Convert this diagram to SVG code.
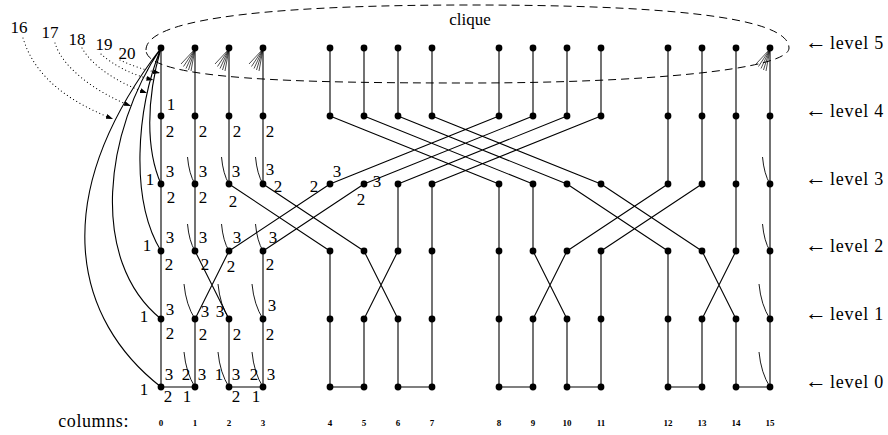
<svg xmlns="http://www.w3.org/2000/svg" width="888" height="435" viewBox="0 0 888 435">
<style>
.e{fill:none;stroke:#000;stroke-width:1.1}
.h{fill:none;stroke:#000;stroke-width:0.9}
.f{fill:none;stroke:#000;stroke-width:0.7}
.d{fill:none;stroke:#000;stroke-width:1.1;stroke-dasharray:0.1 3.6;stroke-linecap:round}
.cl{fill:none;stroke:#000;stroke-width:1;stroke-dasharray:8 5}
.n{fill:#000}
.lb{text-anchor:middle}
</style>
<defs>
<marker id="ah" markerUnits="userSpaceOnUse" markerWidth="8" markerHeight="6" refX="7" refY="2.5" orient="auto"><path d="M0,0 L7,2.5 L0,5 z" fill="#000"/></marker>
<circle id="dot" r="3.4" class="n"/>
</defs>
<rect width="888" height="435" fill="#fff"/>
<g id="clique">
<path class="cl" d="M146,50 C146,15 300,5 470,5 C650,5 789,15 789,48 C789,70 640,83 470,83 C300,83 146,80 146,50 Z"/>
<text x="470" y="25" class="lb" font-family="Liberation Serif" font-size="17">clique</text>
</g>
<g id="connectors">
<path class="e" d="M161,48V387 M195,48V251 M195,319V387 M229,48V184 M229,319V387 M263,48V184 M263,251V387 M330,48V116 M330,251V387 M364,48V116 M364,319V387 M398,48V116 M398,184V251 M398,319V387 M432,48V116 M432,184V387 M499,48V116 M499,184V387 M533,48V116 M533,184V251 M533,319V387 M567,48V116 M567,319V387 M601,48V116 M601,251V387 M668,48V184 M668,251V387 M702,48V184 M702,319V387 M736,48V251 M736,319V387 M770,48V387"/>
<path class="e" d="M161,387H195 M229,387H263 M330,387H364 M398,387H432 M499,387H533 M567,387H601 M668,387H702 M736,387H770"/>
<path class="e" d="M229,184L330,251 M263,184L364,251 M229,251L330,184 M263,251L364,184 M567,184L668,251 M601,184L702,251 M567,251L668,184 M601,251L702,184"/>
<path class="e" d="M330,116L499,184 M364,116L533,184 M398,116L567,184 M432,116L601,184 M330,184L499,116 M364,184L533,116 M398,184L567,116 M432,184L601,116"/>
<path class="e" d="M195,251L229,319 M229,251L195,319 M364,251L398,319 M398,251L364,319 M533,251L567,319 M567,251L533,319 M702,251L736,319 M736,251L702,319"/>
<path class="e" d="M161,48 C146,100 146,150 161,184 M161,48 C136,110 130,200 161,251 M161,48 C105,130 88,260 161,319 M161,48 C45,200 75,320 161,387"/>
<path class="h" d="M187.5,157 Q189,174 195,184 M221.5,157 Q223,174 229,184 M255.5,157 Q257,174 263,184 M762.5,157 Q764,174 770,184 M187.5,224 Q189,241 195,251 M221.5,224 Q223,241 229,251 M255.5,224 Q257,241 263,251 M762.5,224 Q764,241 770,251 M184,284 Q186,305 195,319 M218,284 Q220,305 229,319 M252,284 Q254,305 263,319 M759,284 Q761,305 770,319 M184,352 Q186,373 195,387 M218,352 Q220,373 229,387 M252,352 Q254,373 263,387 M759,352 Q761,373 770,387"/>
<path class="f" d="M195,49L181,64 M195,49L183.5,66.5 M195,49L186,68.5 M195,49L188.5,70 M195,49L191,71 M229,49L215,64 M229,49L217.5,66.5 M229,49L220,68.5 M229,49L222.5,70 M229,49L225,71 M263,49L249,64 M263,49L251.5,66.5 M263,49L254,68.5 M263,49L256.5,70 M263,49L259,71 M770,49L756,64 M770,49L758.5,66.5 M770,49L761,68.5 M770,49L763.5,70 M770,49L766,71"/>
<path class="d" marker-end="url(#ah)" d="M23,38 C35,78 70,102 113,119"/>
<path class="d" marker-end="url(#ah)" d="M55,43 C62,67 95,92 131,106"/>
<path class="d" marker-end="url(#ah)" d="M82,48 C92,66 118,83 147,93"/>
<path class="d" marker-end="url(#ah)" d="M101,54 C113,65 132,75 153.5,80"/>
<path class="d" marker-end="url(#ah)" d="M120,60 C132,66 145,70 160,73"/>
</g>
<g id="edge-labels" font-family="Liberation Serif" font-size="17" text-anchor="middle">
<text x="19" y="33">16</text>
<text x="50" y="38">17</text>
<text x="77" y="45">18</text>
<text x="104" y="50">19</text>
<text x="127" y="59">20</text>
</g>
<g id="nodes">
<g id="c0"><use href="#dot" x="161" y="48"/><use href="#dot" x="161" y="116"/><use href="#dot" x="161" y="184"/><use href="#dot" x="161" y="251"/><use href="#dot" x="161" y="319"/><use href="#dot" x="161" y="387"/></g>
<g id="c1"><use href="#dot" x="195" y="48"/><use href="#dot" x="195" y="116"/><use href="#dot" x="195" y="184"/><use href="#dot" x="195" y="251"/><use href="#dot" x="195" y="319"/><use href="#dot" x="195" y="387"/></g>
<g id="c2"><use href="#dot" x="229" y="48"/><use href="#dot" x="229" y="116"/><use href="#dot" x="229" y="184"/><use href="#dot" x="229" y="251"/><use href="#dot" x="229" y="319"/><use href="#dot" x="229" y="387"/></g>
<g id="c3"><use href="#dot" x="263" y="48"/><use href="#dot" x="263" y="116"/><use href="#dot" x="263" y="184"/><use href="#dot" x="263" y="251"/><use href="#dot" x="263" y="319"/><use href="#dot" x="263" y="387"/></g>
<g id="c4"><use href="#dot" x="330" y="48"/><use href="#dot" x="330" y="116"/><use href="#dot" x="330" y="184"/><use href="#dot" x="330" y="251"/><use href="#dot" x="330" y="319"/><use href="#dot" x="330" y="387"/></g>
<g id="c5"><use href="#dot" x="364" y="48"/><use href="#dot" x="364" y="116"/><use href="#dot" x="364" y="184"/><use href="#dot" x="364" y="251"/><use href="#dot" x="364" y="319"/><use href="#dot" x="364" y="387"/></g>
<g id="c6"><use href="#dot" x="398" y="48"/><use href="#dot" x="398" y="116"/><use href="#dot" x="398" y="184"/><use href="#dot" x="398" y="251"/><use href="#dot" x="398" y="319"/><use href="#dot" x="398" y="387"/></g>
<g id="c7"><use href="#dot" x="432" y="48"/><use href="#dot" x="432" y="116"/><use href="#dot" x="432" y="184"/><use href="#dot" x="432" y="251"/><use href="#dot" x="432" y="319"/><use href="#dot" x="432" y="387"/></g>
<g id="c8"><use href="#dot" x="499" y="48"/><use href="#dot" x="499" y="116"/><use href="#dot" x="499" y="184"/><use href="#dot" x="499" y="251"/><use href="#dot" x="499" y="319"/><use href="#dot" x="499" y="387"/></g>
<g id="c9"><use href="#dot" x="533" y="48"/><use href="#dot" x="533" y="116"/><use href="#dot" x="533" y="184"/><use href="#dot" x="533" y="251"/><use href="#dot" x="533" y="319"/><use href="#dot" x="533" y="387"/></g>
<g id="c10"><use href="#dot" x="567" y="48"/><use href="#dot" x="567" y="116"/><use href="#dot" x="567" y="184"/><use href="#dot" x="567" y="251"/><use href="#dot" x="567" y="319"/><use href="#dot" x="567" y="387"/></g>
<g id="c11"><use href="#dot" x="601" y="48"/><use href="#dot" x="601" y="116"/><use href="#dot" x="601" y="184"/><use href="#dot" x="601" y="251"/><use href="#dot" x="601" y="319"/><use href="#dot" x="601" y="387"/></g>
<g id="c12"><use href="#dot" x="668" y="48"/><use href="#dot" x="668" y="116"/><use href="#dot" x="668" y="184"/><use href="#dot" x="668" y="251"/><use href="#dot" x="668" y="319"/><use href="#dot" x="668" y="387"/></g>
<g id="c13"><use href="#dot" x="702" y="48"/><use href="#dot" x="702" y="116"/><use href="#dot" x="702" y="184"/><use href="#dot" x="702" y="251"/><use href="#dot" x="702" y="319"/><use href="#dot" x="702" y="387"/></g>
<g id="c14"><use href="#dot" x="736" y="48"/><use href="#dot" x="736" y="116"/><use href="#dot" x="736" y="184"/><use href="#dot" x="736" y="251"/><use href="#dot" x="736" y="319"/><use href="#dot" x="736" y="387"/></g>
<g id="c15"><use href="#dot" x="770" y="48"/><use href="#dot" x="770" y="116"/><use href="#dot" x="770" y="184"/><use href="#dot" x="770" y="251"/><use href="#dot" x="770" y="319"/><use href="#dot" x="770" y="387"/></g>
</g>
<g id="port-labels" font-family="Liberation Serif" font-size="17" text-anchor="middle">
<text x="171" y="110">1</text><text x="170" y="137">2</text>
<text x="150" y="185">1</text><text x="170" y="177">3</text><text x="171" y="203">2</text>
<text x="147" y="251">1</text><text x="170" y="243">3</text><text x="169" y="270">2</text>
<text x="144" y="322">1</text><text x="170" y="315">3</text><text x="170" y="339">2</text>
<text x="144" y="395">1</text><text x="169" y="380">3</text><text x="168" y="402">2</text>
<text x="203" y="137">2</text>
<text x="203" y="177">3</text><text x="203" y="203">2</text>
<text x="203" y="243">3</text><text x="205" y="270">2</text>
<text x="205" y="317">3</text><text x="203" y="340">2</text>
<text x="186" y="380">2</text><text x="202" y="380">3</text><text x="187" y="402">1</text>
<text x="237" y="137">2</text>
<text x="236" y="177">3</text><text x="233" y="207">2</text>
<text x="237" y="243">3</text><text x="231" y="272">2</text>
<text x="220" y="317">3</text><text x="237" y="340">2</text>
<text x="219" y="380">1</text><text x="236" y="380">3</text><text x="236" y="402">2</text>
<text x="270" y="137">2</text>
<text x="270" y="175">3</text><text x="278" y="192">2</text>
<text x="273" y="243">3</text><text x="270" y="270">2</text>
<text x="272" y="311">3</text><text x="270" y="340">2</text>
<text x="254" y="380">2</text><text x="271" y="380">3</text><text x="256" y="402">1</text>
<text x="337" y="177">3</text><text x="314" y="192">2</text>
<text x="377" y="187">3</text><text x="361" y="205">2</text>
</g>
<g id="level-labels" font-family="Liberation Serif" font-size="18" letter-spacing="0.8">
<text x="805" y="49"><tspan font-size="22" letter-spacing="0">←</tspan><tspan x="830">level 5</tspan></text>
<text x="805" y="117"><tspan font-size="22" letter-spacing="0">←</tspan><tspan x="830">level 4</tspan></text>
<text x="805" y="185"><tspan font-size="22" letter-spacing="0">←</tspan><tspan x="830">level 3</tspan></text>
<text x="805" y="252"><tspan font-size="22" letter-spacing="0">←</tspan><tspan x="830">level 2</tspan></text>
<text x="805" y="320"><tspan font-size="22" letter-spacing="0">←</tspan><tspan x="830">level 1</tspan></text>
<text x="805" y="388"><tspan font-size="22" letter-spacing="0">←</tspan><tspan x="830">level 0</tspan></text>
</g>
<g id="column-labels">
<text x="129" y="427" text-anchor="end" font-family="Liberation Serif" font-size="18" letter-spacing="0.6">columns:</text>
<g font-family="Liberation Serif" font-size="9" font-weight="bold" text-anchor="middle">
<text x="161" y="426">0</text><text x="195" y="426">1</text><text x="229" y="426">2</text><text x="263" y="426">3</text>
<text x="330" y="426">4</text><text x="364" y="426">5</text><text x="398" y="426">6</text><text x="432" y="426">7</text>
<text x="499" y="426">8</text><text x="533" y="426">9</text><text x="567" y="426">10</text><text x="601" y="426">11</text>
<text x="668" y="426">12</text><text x="702" y="426">13</text><text x="736" y="426">14</text><text x="770" y="426">15</text>
</g>
</g>
</svg>
